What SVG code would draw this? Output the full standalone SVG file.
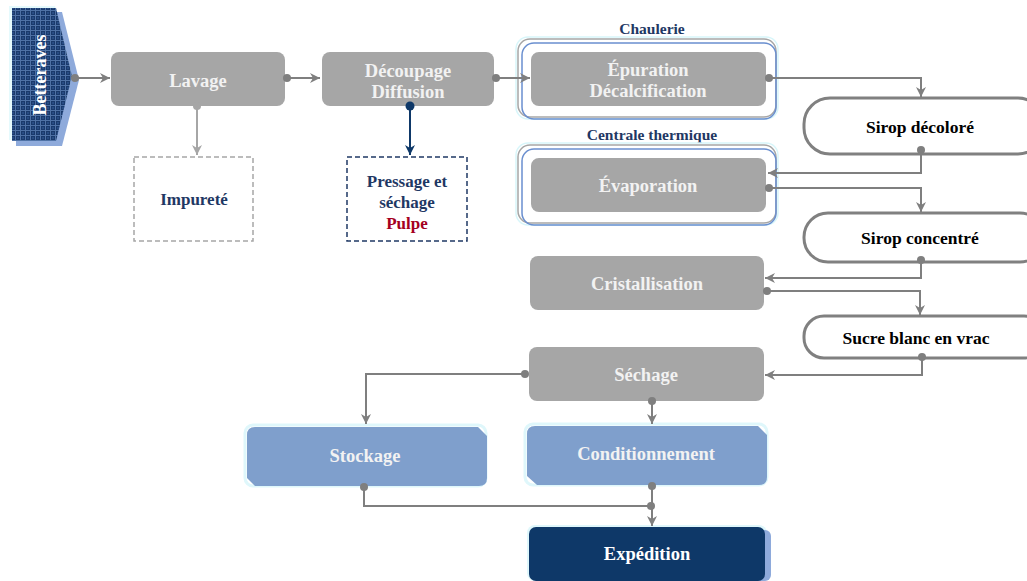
<svg xmlns="http://www.w3.org/2000/svg" width="1027" height="581" viewBox="0 0 1027 581">
<defs>
<pattern id="grid" width="5" height="5" patternUnits="userSpaceOnUse">
<rect width="5" height="5" fill="#1a3a6c"/>
<path d="M0,0.5 H5 M0.5,0 V5" stroke="#4f72a6" stroke-width="1"/>
<rect x="2" y="2" width="2" height="2" fill="#284c84"/>
</pattern>
<marker id="arr" markerWidth="12" markerHeight="12" viewBox="0 0 12 12" refX="11" refY="6" orient="auto" markerUnits="userSpaceOnUse">
<path d="M1,1 L11,6 L1,11 L4,6 z" fill="#7f7f7f"/>
</marker>
<marker id="arrL" markerWidth="12" markerHeight="12" viewBox="0 0 12 12" refX="11" refY="6" orient="auto" markerUnits="userSpaceOnUse">
<path d="M1,1 L11,6 L1,11 L4,6 z" fill="#a6a6a6"/>
</marker>
<marker id="arrN" markerWidth="12" markerHeight="12" viewBox="0 0 12 12" refX="11" refY="6" orient="auto" markerUnits="userSpaceOnUse">
<path d="M1,1 L11,6 L1,11 L4,6 z" fill="#0e3868"/>
</marker>
<marker id="dot" markerWidth="10" markerHeight="10" viewBox="0 0 10 10" refX="5" refY="5" markerUnits="userSpaceOnUse">
<circle cx="5" cy="5" r="4" fill="#7f7f7f"/>
</marker>
<marker id="dotL" markerWidth="10" markerHeight="10" viewBox="0 0 10 10" refX="5" refY="5" markerUnits="userSpaceOnUse">
<circle cx="5" cy="5" r="4" fill="#a6a6a6"/>
</marker>
<marker id="dotN" markerWidth="10" markerHeight="10" viewBox="0 0 10 10" refX="5" refY="5" markerUnits="userSpaceOnUse">
<circle cx="5" cy="5" r="4.5" fill="#0e3868"/>
</marker>
</defs>
<style>
text{font-family:"Liberation Serif","Times New Roman",serif;font-weight:bold;text-anchor:middle;}
.proc{fill:#a6a6a6;}
.pt{fill:#f2f2f2;font-size:18.5px;}
.pill{fill:#ffffff;stroke:#808080;stroke-width:3;}
.plt{fill:#000000;font-size:17.5px;}
.blue{fill:#7f9fcc;}
.glow{fill:none;stroke:#dff7fb;stroke-width:3;}
.lab{fill:#1f3864;font-size:15.5px;}
.con{fill:none;stroke:#7f7f7f;stroke-width:2;}
.c1{fill:none;stroke:#d8f6fa;stroke-width:1.5;}
.c2{fill:none;stroke:#a6a6a6;stroke-width:1.5;}
.c3{fill:none;stroke:#6a8fcf;stroke-width:1.5;}
</style>

<g id="betteraves">
<polygon points="16,12 62,12 79,80 62,146 16,146" fill="#8eaadb"/>
<polygon points="9,6 55,6 72,76 55,140 9,140" fill="#e5fafd"/>
<polygon points="12,8 56,8 72,76 56,141 12,141" fill="url(#grid)"/>
<text transform="translate(46,75) rotate(-90)" fill="#ffffff" font-size="18" dy="0">Betteraves</text>
</g>

<g id="lavage">
<rect x="111" y="52" width="174" height="54" rx="8" class="proc"/>
<text x="198" y="87" class="pt">Lavage</text>
</g>

<g id="decoupage">
<rect x="322" y="52" width="172" height="54" rx="8" class="proc"/>
<text x="408" y="77" class="pt">Découpage</text>
<text x="408" y="98" class="pt">Diffusion</text>
</g>

<g id="chaulerie">
<text x="652" y="34" class="lab">Chaulerie</text>
<rect x="516" y="37" width="262" height="82" rx="12" class="c1"/>
<rect x="518" y="39" width="258" height="78" rx="12" class="c2"/>
<rect x="522" y="43" width="254" height="76" rx="12" class="c3"/>
</g>

<g id="epuration">
<rect x="531" y="52" width="235" height="54" rx="8" class="proc"/>
<text x="648" y="76" class="pt">Épuration</text>
<text x="648" y="97" class="pt">Décalcification</text>
</g>

<g id="centrale">
<text x="652" y="140" class="lab">Centrale thermique</text>
<rect x="516" y="143" width="262" height="82" rx="12" class="c1"/>
<rect x="518" y="145" width="258" height="78" rx="12" class="c2"/>
<rect x="522" y="149" width="254" height="76" rx="12" class="c3"/>
</g>

<g id="evaporation">
<rect x="531" y="158" width="235" height="54" rx="8" class="proc"/>
<text x="648" y="192" class="pt">Évaporation</text>
</g>

<g id="sirop-decolore">
<rect x="804" y="98" width="240" height="56" rx="26" class="pill"/>
<text x="920" y="133" class="plt">Sirop décoloré</text>
</g>

<g id="sirop-concentre">
<rect x="804" y="213" width="240" height="49" rx="24" class="pill"/>
<text x="920" y="244" class="plt">Sirop concentré</text>
</g>

<g id="cristallisation">
<rect x="530" y="256" width="234" height="54" rx="8" class="proc"/>
<text x="647" y="290" class="pt">Cristallisation</text>
</g>

<g id="sucre">
<rect x="804" y="316" width="240" height="42" rx="20" class="pill"/>
<text x="916" y="344" class="plt">Sucre blanc en vrac</text>
</g>

<g id="sechage">
<rect x="529" y="347" width="235" height="54" rx="8" class="proc"/>
<text x="646" y="381" class="pt">Séchage</text>
</g>

<g id="stockage">
<rect x="245" y="425" width="241" height="61" rx="8" class="glow"/>
<path d="M255,427 H478 L487,436 V478 Q487,486 479,486 H255 L247,478 V435 Q247,427 255,427 z" class="blue"/>
<text x="365" y="462" fill="#f2f2f2" font-size="18.5">Stockage</text>
</g>

<g id="conditionnement">
<rect x="525" y="424" width="242" height="61" rx="8" class="glow"/>
<path d="M535,426 H758 L767,435 V477 Q767,485 759,485 H537 L527,476 V434 Q527,426 535,426 z" class="blue"/>
<text x="646" y="460" fill="#f2f2f2" font-size="18.5">Conditionnement</text>
</g>

<g id="expedition">
<rect x="527" y="525" width="240" height="56" rx="8" fill="#dff7fb"/>
<rect x="534" y="530" width="237" height="51" rx="6" fill="#8eaadb"/>
<rect x="529" y="527" width="236" height="54" rx="7" fill="#0e3868"/>
<text x="647" y="560" fill="#ffffff" font-size="18.5">Expédition</text>
</g>

<g id="impurete">
<rect x="134" y="157" width="119" height="84" fill="none" stroke="#a6a6a6" stroke-width="1.5" stroke-dasharray="5,3"/>
<text x="194" y="205" fill="#1f3864" font-size="17">Impureté</text>
</g>

<g id="pressage">
<rect x="347" y="157" width="120" height="84" fill="none" stroke="#1f3864" stroke-width="1.5" stroke-dasharray="5,3"/>
<text x="407" y="187" fill="#1f3864" font-size="17">Pressage et</text>
<text x="407" y="208" fill="#1f3864" font-size="17">séchage</text>
<text x="407" y="229" fill="#a50021" font-size="17">Pulpe</text>
</g>

<g id="connectors">
<path d="M75,78 H110" class="con" marker-start="url(#dot)" marker-end="url(#arr)"/>
<path d="M287,78 H320" class="con" marker-start="url(#dot)" marker-end="url(#arr)"/>
<path d="M496,78 H530" class="con" marker-start="url(#dot)" marker-end="url(#arr)"/>
<path d="M197,106 V155" fill="none" stroke="#a6a6a6" stroke-width="2" marker-start="url(#dotL)" marker-end="url(#arrL)"/>
<path d="M410,106 V155" fill="none" stroke="#0e3868" stroke-width="2" marker-start="url(#dotN)" marker-end="url(#arrN)"/>
<path d="M769,78 H921 V97" class="con" marker-start="url(#dot)" marker-end="url(#arr)"/>
<path d="M921,150 V173 H768" class="con" marker-start="url(#dot)" marker-end="url(#arr)"/>
<path d="M769,188 H921 V212" class="con" marker-start="url(#dot)" marker-end="url(#arr)"/>
<path d="M921,260 V278 H765" class="con" marker-start="url(#dot)" marker-end="url(#arr)"/>
<path d="M767,291 H920 V315" class="con" marker-start="url(#dot)" marker-end="url(#arr)"/>
<path d="M922,357 V375 H765" class="con" marker-start="url(#dot)" marker-end="url(#arr)"/>
<path d="M525,374 H366 V424" class="con" marker-start="url(#dot)" marker-end="url(#arr)"/>
<path d="M652,401 V424" class="con" marker-start="url(#dot)" marker-end="url(#arr)"/>
<path d="M364,487 V506 H652" class="con" marker-start="url(#dot)"/>
<path d="M652,486 V526" class="con" marker-start="url(#dot)" marker-end="url(#arr)"/>
<circle cx="651" cy="506" r="4" fill="#7f7f7f"/>
</g>
</svg>
